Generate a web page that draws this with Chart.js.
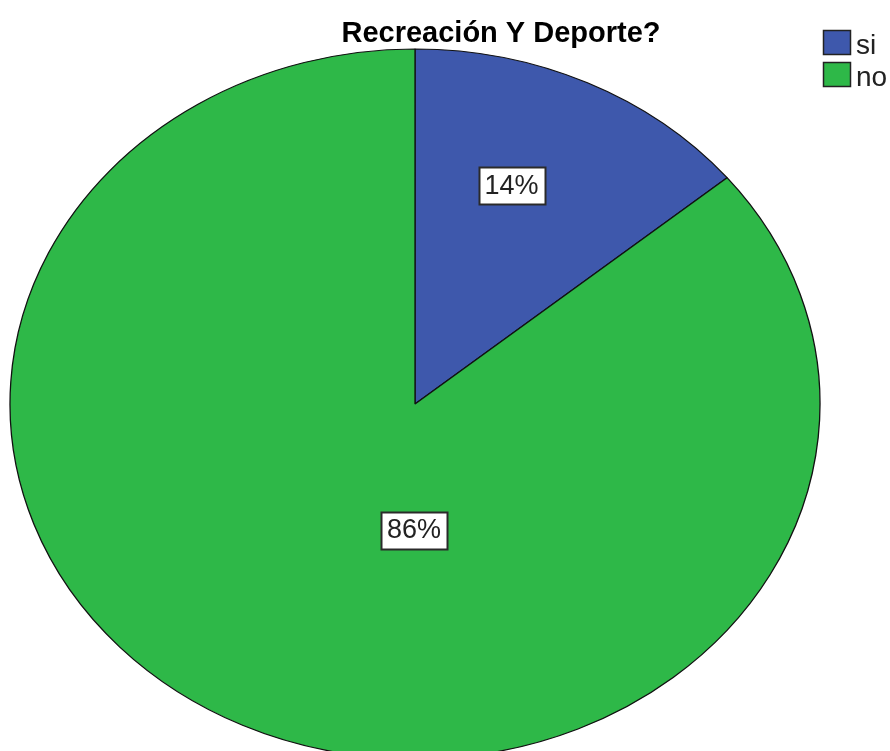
<!DOCTYPE html>
<html>
<head>
<meta charset="utf-8">
<script src="https://cdn.jsdelivr.net/npm/chart.js@4.4.0/dist/chart.umd.min.js"></script>
<style>
  html, body { margin: 0; padding: 0; background: #fff; overflow: hidden; }
  #wrap { width: 890px; height: 751px; }
</style>
</head>
<body>
<div id="wrap"><canvas id="myChart" width="890" height="751"></canvas></div>
<script>
const TITLE = 'Recreación Y Deporte?';
const CATEGORIES = ['si', 'no'];
const PERCENTS = [14, 86];
const COLORS = ['#3e58ac', '#2eb848'];

// the pie is shown as an ellipse: squash it vertically around its centre
const SQUASH = 355 / 405;
// where each % box sits in its slice (share of the slice angle, share of the radius)
const LABEL_ANGLE = 0.42;
const LABEL_DIST = [0.66, 0.355];
const FONT = '"Liberation Sans", Arial, sans-serif';

const squash = {
    id: 'squash',
    beforeDatasetsDraw(chart) {
        const arc = chart.getDatasetMeta(0).data[0];
        const ctx = chart.ctx;
        ctx.save();
        ctx.translate(arc.x, arc.y);
        ctx.scale(1, SQUASH);
        ctx.translate(-arc.x, -arc.y);
    },
    afterDatasetsDraw(chart) {
        chart.ctx.restore();
    }
};

const decor = {
    id: 'decor',
    afterDraw(chart) {
        const ctx = chart.ctx;
        ctx.save();

        // title
        ctx.fillStyle = '#000';
        ctx.font = 'bold 29px ' + FONT;
        ctx.textAlign = 'center';
        ctx.textBaseline = 'alphabetic';
        ctx.fillText(TITLE, 501, 42);

        // legend
        ctx.font = '28px ' + FONT;
        ctx.textAlign = 'left';
        ctx.textBaseline = 'alphabetic';
        CATEGORIES.forEach((c, i) => {
            const y = 30.5 + i * 32;
            ctx.fillStyle = COLORS[i];
            ctx.fillRect(823.5, y, 27, 24);
            ctx.strokeStyle = '#222';
            ctx.lineWidth = 1.5;
            ctx.strokeRect(823.5, y, 27, 24);
            ctx.fillStyle = '#222';
            ctx.fillText(c, 856, y + 23);
        });

        // percentage boxes
        const total = PERCENTS.reduce((a, b) => a + b, 0);
        ctx.font = '27px ' + FONT;
        ctx.textAlign = 'center';
        ctx.textBaseline = 'middle';
        chart.getDatasetMeta(0).data.forEach((arc, i) => {
            const a = arc.startAngle + LABEL_ANGLE * (arc.endAngle - arc.startAngle);
            const r = LABEL_DIST[i] * arc.outerRadius;
            const x = arc.x + Math.cos(a) * r;
            const y = arc.y + Math.sin(a) * r * SQUASH;
            const txt = Math.round(PERCENTS[i] / total * 100) + '%';
            const w = Math.round(ctx.measureText(txt).width + 12);
            const h = 37;
            const bx = Math.round(x - w / 2) + 0.5;
            const by = Math.round(y - h / 2) + 0.5;
            ctx.fillStyle = '#fff';
            ctx.fillRect(bx, by, w, h);
            ctx.strokeStyle = '#2a2a2a';
            ctx.lineWidth = 2;
            ctx.strokeRect(bx, by, w, h);
            ctx.fillStyle = '#222';
            ctx.fillText(txt, x, y + 1);
        });

        ctx.restore();
    }
};

const data = {
    labels: CATEGORIES,
    datasets: [{
        data: PERCENTS,
        backgroundColor: COLORS,
        borderColor: '#111',
        borderWidth: 1.3,
        radius: 405
    }]
};

const ctx = document.getElementById('myChart').getContext('2d');
const myChart = new Chart(ctx, {
    type: 'pie',
    data: data,
    options: {
        responsive: false,
        animation: false,
        events: [],
        layout: {
            padding: {left: 10, right: 70, top: 57, bottom: 0}
        },
        plugins: {
            legend: {display: false},
            tooltip: {enabled: false},
            title: {display: false}
        }
    },
    plugins: [squash, decor]
});
</script>
</body>
</html>
